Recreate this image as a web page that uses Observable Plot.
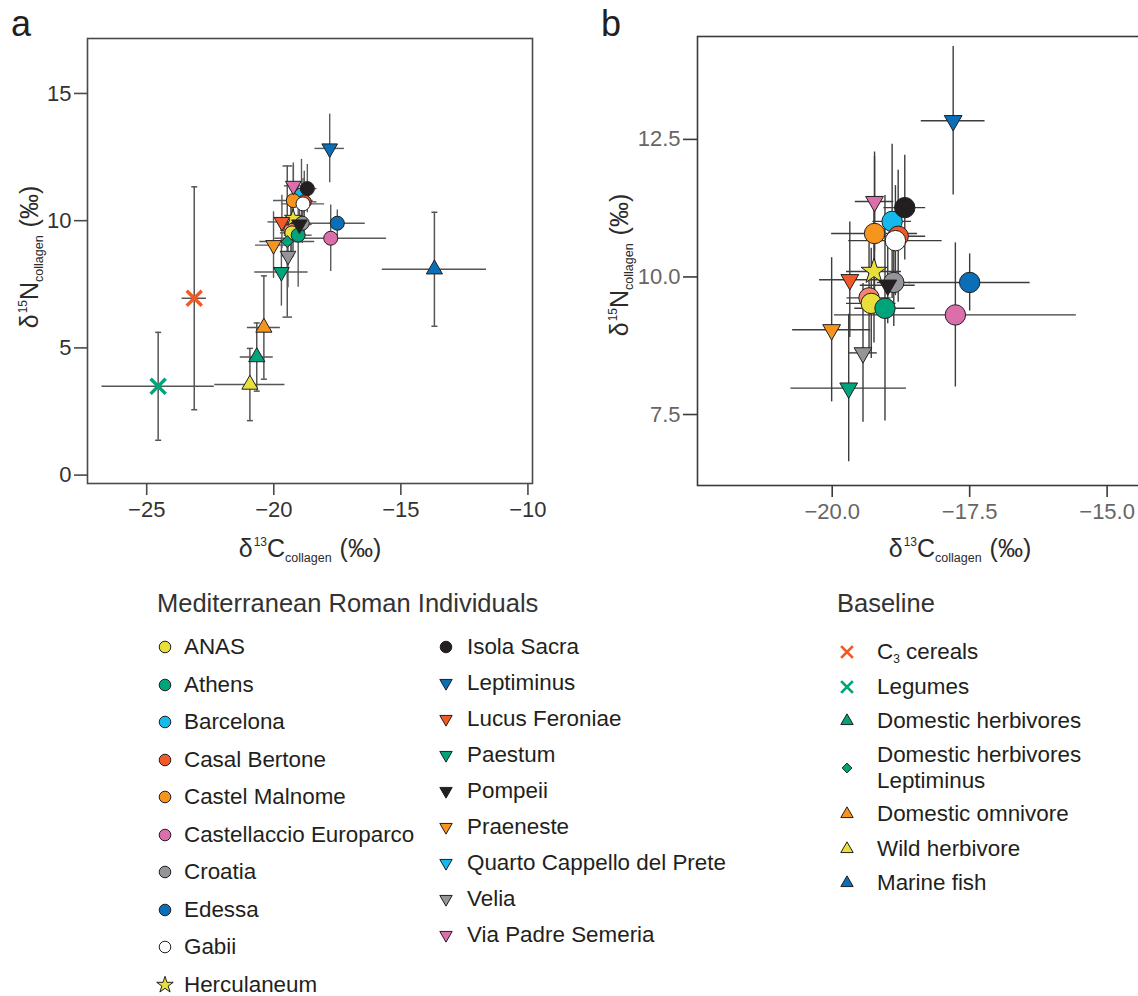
<!DOCTYPE html>
<html>
<head>
<meta charset="utf-8">
<script src="https://cdn.jsdelivr.net/npm/d3@7"></script>
<script src="https://cdn.jsdelivr.net/npm/@observablehq/plot@0.6"></script>
<style>
  html, body { margin: 0; padding: 0; background: #fff; overflow: hidden; }
  body { width: 1138px; height: 996px; position: relative; font-family: "Liberation Sans", Arial, Helvetica, sans-serif; color: #231f20; }
  .abs { position: absolute; }
  .tag { font-size: 36px; line-height: 1; color: #231f20; }
  .axlab { font-size: 25px; line-height: 1; white-space: nowrap; color: #2b2b2b; }
  .axlab .sup { font-size: 12px; position: relative; top: -11px; margin-left: 1px; }
  .axlab .sub { font-size: 12.5px; position: relative; top: 5px; margin-right: 1px; }
  .lgtitle { font-size: 25.5px; line-height: 1; white-space: nowrap; color: #333; }
  .lgitem { font-size: 22.4px; line-height: 26px; white-space: nowrap; color: #231f20; }
  .lgitem sub { font-size: 12px; vertical-align: -4px; }
</style>
</head>
<body>
<div id="panelA" class="abs" style="left:0;top:0;width:545px;height:530px"></div>
<div id="panelB" class="abs" style="left:600px;top:0;width:560px;height:530px"></div>
<div class="abs tag" style="left:11px;top:6px">a</div>
<div class="abs tag" style="left:601px;top:6px">b</div>
<div id="labels"></div>
<div id="legends"></div>
<script>
// ---- Mediterranean Roman individuals: site means ± 1 SD (‰) ----
const siteNames = [
  "ANAS", "Athens", "Barcelona", "Casal Bertone", "Castel Malnome",
  "Castellaccio Europarco", "Croatia", "Edessa", "Gabii", "Herculaneum",
  "Isola Sacra", "Leptiminus", "Lucus Feroniae", "Paestum", "Pompeii",
  "Praeneste", "Quarto Cappello del Prete", "Velia", "Via Padre Semeria",
  "Casal Bertone (mausoleum)"
];
const siteColors = [
  "#e9df3a", "#00a47a", "#16b9ec", "#f05a28", "#f7941d",
  "#db6fab", "#939598", "#0a6fb7", "#ffffff", "#e9df3a",
  "#231f20", "#0a6fb7", "#f05a28", "#00a47a", "#231f20",
  "#f7941d", "#16b9ec", "#939598", "#db6fab",
  "#f6836d"
];
const siteShapes = [
  "circle", "circle", "circle", "circle", "circle",
  "circle", "circle", "circle", "circle", "star",
  "circle", "down", "down", "down", "down",
  "down", "down", "down", "down",
  "circle"
];
const siteC   = [-19.29, -19.04, -18.91, -18.80, -19.23, -17.76, -18.88, -17.50, -18.85, -19.24,
                 -18.68, -17.80, -19.68, -19.70, -18.99, -20.01, null, -19.44, -19.23, -19.33];
const siteN   = [9.52, 9.43, 11.01, 10.74, 10.79, 9.31, 9.90, 9.90, 10.66, 10.10,
                 11.26, 12.84, 9.95, 7.98, 9.85, 9.04, null, 8.62, 11.37, 9.62];
const siteSdC = [0.45, 0.55, 0.35, 0.50, 0.78, 2.20, 0.30, 1.10, 0.85, 0.50,
                 0.38, 0.58, 0.55, 1.05, 0.50, 0.71, null, 0.26, 0.35, 0.40];
const siteSdN = [1.00, 2.05, 1.40, 1.20, 1.40, 1.31, 0.80, 0.52, 1.00, 1.30,
                 0.95, 1.35, 1.05, 1.34, 0.70, 1.31, null, 1.26, 0.90, 1.00];
const legendColumn1 = siteNames.slice(0, 10);
const legendColumn2 = siteNames.slice(10, 19);

// ---- Baseline: plants and fauna ----
const baseNames  = ["C3 cereals", "Legumes", "Domestic herbivores", "Domestic herbivores Leptiminus",
                    "Domestic omnivore", "Wild herbivore", "Marine fish"];
const baseColors = ["#f15a24", "#00a47a", "#00a47a", "#00a47a", "#f7941d", "#e9df3a", "#0a6fb7"];
const baseShapes = ["times", "times", "up", "diamond", "up", "up", "up"];
const baseC   = [-23.13, -24.55, -20.67, -19.47, -20.39, -20.94, -13.68];
const baseN   = [6.95, 3.49, 4.64, 9.18, 5.80, 3.56, 8.09];
const baseSdC = [0.48, 2.21, 0.65, 1.08, 0.65, 1.38, 2.05];
const baseSdN = [4.38, 2.12, 1.34, 2.97, 2.03, 1.42, 2.24];

// ---- axis ticks ----
const ticksAx = [-25, -20, -15, -10];
const ticksAy = [0, 5, 10, 15];
const ticksBx = [-20, -17.5, -15];
const ticksBy = [7.5, 10, 12.5];

// ---- symbols ----
const triangleDown = {
  draw(context, size) {
    const s3 = Math.sqrt(3);
    const y = -Math.sqrt(size / (s3 * 3));
    context.moveTo(0, -y * 2);
    context.lineTo(-s3 * y, y);
    context.lineTo(s3 * y, y);
    context.closePath();
  }
};
// horizontal cap for the ends of vertical error bars
const capLine = {
  draw(context, size) {
    const r = Math.sqrt(size / Math.PI);
    context.moveTo(-r, 0);
    context.lineTo(r, 0);
  }
};
const symbols = {
  circle: d3.symbolCircle, up: d3.symbolTriangle, down: triangleDown,
  star: d3.symbolStar, times: d3.symbolTimes, diamond: d3.symbolDiamond2
};

const sites = siteNames.map((name, i) => ({
  name, color: siteColors[i], shape: siteShapes[i],
  c: siteC[i], n: siteN[i], sc: siteSdC[i], sn: siteSdN[i],
  listed: i < 19
})).filter(d => d.c != null)
  .sort((a, b) => (a.listed ? 1 : 0) - (b.listed ? 1 : 0));

const baseline = baseNames.map((name, i) => ({
  name, color: baseColors[i], shape: baseShapes[i],
  c: baseC[i], n: baseN[i], sc: baseSdC[i], sn: baseSdN[i]
}));

function errorBars(rows, stroke, width) {
  return [
    Plot.ruleX(rows, {x: "c", y1: d => d.n - d.sn, y2: d => d.n + d.sn, stroke, strokeWidth: width}),
    Plot.ruleY(rows, {y: "n", x1: d => d.c - d.sc, x2: d => d.c + d.sc, stroke, strokeWidth: width})
  ];
}

function markers(rows, sizes) {
  const order = ["circle", "star", "down", "up", "diamond", "times"];
  return order.map(shape => {
    const sub = rows.filter(d => d.shape === shape);
    if (!sub.length) return null;
    if (shape === "times") {
      return Plot.dot(sub, {x: "c", y: "n", symbol: symbols.times, r: sizes.times,
        stroke: d => d.color, strokeWidth: 3.4});
    }
    return Plot.dot(sub, {x: "c", y: "n", symbol: symbols[shape], r: sizes[shape],
      fill: d => d.color, stroke: "#231f20", strokeWidth: 1});
  }).filter(Boolean);
}

const fontFamily = '"Liberation Sans", Arial, Helvetica, sans-serif';
const svgStyle = {fontFamily, fontSize: "22px", color: "#333", background: "transparent", overflow: "visible", maxWidth: "none"};

// ---- panel a: all sites with the dietary baseline ----
const plotA = Plot.plot({
  width: 545, height: 530,
  marginLeft: 87, marginRight: 13, marginTop: 38, marginBottom: 47,
  x: {domain: [-27.33, -9.82]},
  y: {domain: [-0.33, 17.16]},
  color: {type: "identity"},
  style: svgStyle,
  marks: [
    Plot.frame({stroke: "#4a4a4a", strokeWidth: 1.6}),
    Plot.axisX({ticks: ticksAx, tickSize: 12, tickPadding: 6, label: null, stroke: "#4a4a4a", strokeWidth: 1.6, fill: "#333"}),
    Plot.axisY({ticks: ticksAy, tickSize: 13, tickPadding: 3, label: null, stroke: "#4a4a4a", strokeWidth: 1.6, fill: "#333"}),
    ...errorBars(baseline, "#555", 1.5),
    Plot.dot(baseline, {x: "c", y: d => d.n + d.sn, symbol: capLine, r: d => d.shape === "diamond" ? 11 : 4.5, stroke: "#555", strokeWidth: 1.5}),
    Plot.dot(baseline, {x: "c", y: d => d.n - d.sn, symbol: capLine, r: d => d.shape === "diamond" ? 11 : 4.5, stroke: "#555", strokeWidth: 1.5}),
    ...errorBars(sites, "#5a5a5a", 1.4),
    ...markers(sites, {circle: 7, star: 5.4, down: 5.8}),
    ...markers(baseline, {up: 6.0, diamond: 5.4, times: 6.9})
  ]
});
document.getElementById("panelA").append(plotA);

// ---- panel b: close-up on the human sites (frame runs past the right edge) ----
const plotB = Plot.plot({
  width: 560, height: 530,
  marginLeft: 97, marginRight: 5, marginTop: 36, marginBottom: 45,
  x: {domain: [-22.45, -14.12]},
  y: {domain: [6.21, 14.37]},
  color: {type: "identity"},
  style: svgStyle,
  marks: [
    Plot.frame({stroke: "#3a3a3a", strokeWidth: 1.6}),
    Plot.axisX({ticks: ticksBx, tickFormat: d3.format(".1f"), tickSize: 12, tickPadding: 6, label: null, stroke: "#3a3a3a", strokeWidth: 1.6, fill: "#666"}),
    Plot.axisY({ticks: ticksBy, tickFormat: d3.format(".1f"), tickSize: 14, tickPadding: 3, label: null, stroke: "#3a3a3a", strokeWidth: 1.6, fill: "#666"}),
    ...errorBars(sites, "#3c3c3c", 1.4),
    ...markers(sites, {circle: 10.2, star: 8.1, down: 6.6})
  ]
});
document.getElementById("panelB").append(plotB);

// ---- axis titles ----
const xTitle = 'δ<span class="sup">13</span>C<span class="sub">collagen</span> (‰)';
const yTitle = 'δ<span class="sup">15</span>N<span class="sub">collagen</span> (‰)';
document.getElementById("labels").innerHTML = [
  `<div class="abs axlab" style="left:310px;top:548px;transform:translate(-50%,-50%)">${xTitle}</div>`,
  `<div class="abs axlab" style="left:960px;top:548px;transform:translate(-50%,-50%)">${xTitle}</div>`,
  `<div class="abs axlab" style="left:29px;top:257px;transform:translate(-50%,-50%) rotate(-90deg)">${yTitle}</div>`,
  `<div class="abs axlab" style="left:619px;top:265px;transform:translate(-50%,-50%) rotate(-90deg)">${yTitle}</div>`
].join("");

// ---- legends ----
function legendMarker(shape, color, x, y) {
  const sizes = {circle: 5.8, star: 5.2, down: 4.6, up: 4.6, diamond: 4.4, times: 5.4};
  const r = sizes[shape];
  const path = d3.symbol(symbols[shape], Math.PI * r * r)();
  const times = shape === "times";
  return `<svg class="abs" width="24" height="24" viewBox="-12 -12 24 24" style="left:${x - 12}px;top:${y - 12}px;overflow:visible">` +
    `<path d="${path}" fill="${times ? "none" : color}" stroke="${times ? color : "#231f20"}" stroke-width="${times ? 2.8 : 1}"/></svg>`;
}
function legendText(label, x, yCenter) {
  const html = label.replace(/^C3 /, "C<sub>3</sub> ").replace("herbivores Leptiminus", "herbivores<br>Leptiminus");
  const lines = (html.match(/<br>/g) || []).length + 1;
  const top = yCenter - (lines * 26) / 2;
  return `<div class="abs lgitem" style="left:${x}px;top:${top}px">${html}</div>`;
}

let out = [];
out.push(`<div class="abs lgtitle" style="left:157px;top:591px">Mediterranean Roman Individuals</div>`);
out.push(`<div class="abs lgtitle" style="left:837px;top:591px">Baseline</div>`);
legendColumn1.forEach((name, i) => {
  const k = siteNames.indexOf(name), y = 647 + i * 37.5;
  out.push(legendMarker(siteShapes[k], siteColors[k], 165, y));
  out.push(legendText(name, 184, y));
});
legendColumn2.forEach((name, i) => {
  const k = siteNames.indexOf(name), y = 647 + i * 36;
  out.push(legendMarker(siteShapes[k], siteColors[k], 446, y));
  out.push(legendText(name, 467, y));
});
let yb = 652;
baseNames.forEach((name, i) => {
  const twoLine = name.includes("Leptiminus");
  if (i > 0) yb += twoLine ? 46.5 : 34.5;
  out.push(legendMarker(baseShapes[i], baseColors[i], 847, yb));
  out.push(legendText(name, 877, yb));
  if (twoLine) yb += 12;
});
document.getElementById("legends").innerHTML = out.join("");
</script>
</body>
</html>
